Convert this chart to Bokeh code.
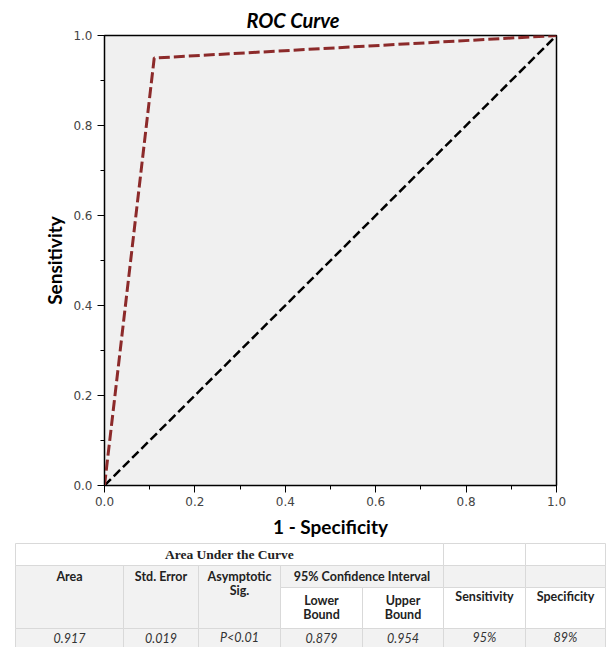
from bokeh.plotting import figure
from bokeh.models import Range1d, FixedTicker, NumeralTickFormatter
from bokeh.embed import file_html
from bokeh.resources import INLINE
from bokeh.core.properties import value

# ---------------- data ----------------
fpr = [0.0, 0.11, 1.0]          # 1 - Specificity
tpr = [0.0, 0.95, 1.0]          # Sensitivity
ref_x = [0.0, 1.0]
ref_y = [0.0, 1.0]
major_ticks = [0.0, 0.2, 0.4, 0.6, 0.8, 1.0]
minor_ticks = [0.1, 0.3, 0.5, 0.7, 0.9]

table_title = "Area Under the Curve"
main_headers = [["Area"], ["Std. Error"], ["Asymptotic", "Sig."]]
ci_header = "95% Confidence Interval"
ci_subheaders = [["Lower", "Bound"], ["Upper", "Bound"]]
extra_headers = ["Sensitivity", "Specificity"]
table_values = ["0.917", "0.019", "P<0.01", "0.879", "0.954", "95%", "89%"]

# ---------------- ROC plot ----------------
W = 608
p = figure(width=W, height=540, x_range=Range1d(0, 1), y_range=Range1d(0, 1),
           output_backend="svg", toolbar_location=None,
           min_border_left=104, min_border_right=52, min_border_top=35, min_border_bottom=53,
           title="ROC Curve")
p.title.align = "left"
p.title.offset = 142
p.title.standoff = 7
p.title.text_font = "Lato"
p.title.text_font_style = "bold italic"
p.title.text_font_size = "20px"
p.title.text_color = "black"

p.background_fill_color = "#f0f0f0"
p.border_fill_color = "white"
p.outline_line_color = "black"
p.outline_line_width = 1.5
p.grid.visible = False

for ax in (p.xaxis[0], p.yaxis[0]):
    ax.ticker = FixedTicker(ticks=major_ticks, minor_ticks=minor_ticks)
    ax.formatter = NumeralTickFormatter(format="0.0")
    ax.major_tick_out = 7
    ax.major_tick_in = 0
    ax.minor_tick_out = 4
    ax.minor_tick_in = 0
    ax.axis_line_color = "black"
    ax.major_tick_line_color = "black"
    ax.minor_tick_line_color = "black"
    ax.major_label_text_font = "DejaVu Sans"
    ax.major_label_text_font_size = "12px"
    ax.major_label_text_color = "#444444"
    ax.axis_label_text_font = "Lato"
    ax.axis_label_text_font_style = "bold"
    ax.axis_label_text_font_size = "19px"
    ax.axis_label_text_color = "black"

p.xaxis.axis_label = "1 - Specificity"
p.yaxis.axis_label = "Sensitivity"
p.xaxis.major_label_standoff = 4
p.yaxis.major_label_standoff = 5
p.xaxis.axis_label_standoff = 6
p.yaxis.axis_label_standoff = 4

p.line(ref_x, ref_y, line_color="black", line_width=2.5, line_dash="9 4")
p.line(fpr, tpr, line_color="#8c2a2a", line_width=3, line_dash="11 4")

# ---------------- table ----------------
TH = 107
t = figure(width=W, height=TH, x_range=Range1d(0, W), y_range=Range1d(TH, 0),
           output_backend="svg", toolbar_location=None,
           x_axis_type=None, y_axis_type=None,
           min_border_left=0, min_border_right=0, min_border_top=0, min_border_bottom=0)
t.outline_line_color = None
t.grid.visible = False
t.background_fill_color = "white"
t.border_fill_color = "white"

xs = [15, 123, 198, 280, 362, 443, 525, 605]
ys = [3, 25, 47, 88, 107]
GREY = "#f2f2f2"
cells = [
    (0, 5, 0, 1, "white"), (5, 6, 0, 1, "white"), (6, 7, 0, 1, "white"),
    (0, 1, 1, 3, GREY), (1, 2, 1, 3, GREY), (2, 3, 1, 3, GREY),
    (3, 5, 1, 2, GREY), (5, 6, 1, 2, GREY), (6, 7, 1, 2, GREY),
    (3, 4, 2, 3, "white"), (4, 5, 2, 3, "white"), (5, 6, 2, 3, "white"), (6, 7, 2, 3, "white"),
] + [(c, c + 1, 3, 4, GREY) for c in range(7)]
t.quad(left=[xs[c[0]] for c in cells], right=[xs[c[1]] for c in cells],
       top=[ys[c[2]] for c in cells], bottom=[ys[c[3]] for c in cells],
       fill_color=[c[4] for c in cells], line_color="#d9d9d9", line_width=1)

def cx(c0, c1):
    return (xs[c0] + xs[c1]) / 2

hdr = dict(text_align="center", text_baseline="middle", text_font=value("Lato"),
           text_font_style="bold", text_font_size="12.5px", text_color="#222222")

t.text(x=[cx(0, 5)], y=[14], text=[table_title], text_align="center",
       text_baseline="middle", text_font=value("Liberation Serif"), text_font_style="bold",
       text_font_size="13.5px", text_color="#222222")

hx, hy, ht = [], [], []
for i, lines in enumerate(main_headers):
    for j, ln in enumerate(lines):
        hx.append(cx(i, i + 1)); hy.append(36 + 14 * j); ht.append(ln)
hx.append(cx(3, 5)); hy.append(36); ht.append(ci_header)
for i, lines in enumerate(ci_subheaders):
    for j, ln in enumerate(lines):
        hx.append(cx(3 + i, 4 + i)); hy.append(60 + 14 * j); ht.append(ln)
for i, ln in enumerate(extra_headers):
    hx.append(cx(5 + i, 6 + i)); hy.append(56); ht.append(ln)
t.text(x=hx, y=hy, text=ht, **hdr)

t.text(x=[cx(i, i + 1) for i in range(7)], y=[97] * 7, text=table_values,
       text_align="center", text_baseline="middle", text_font=value("Lato"),
       text_font_style="italic", text_font_size="12.5px", text_color="#333333")

open("out.html", "w").write(file_html([p, t], INLINE))
